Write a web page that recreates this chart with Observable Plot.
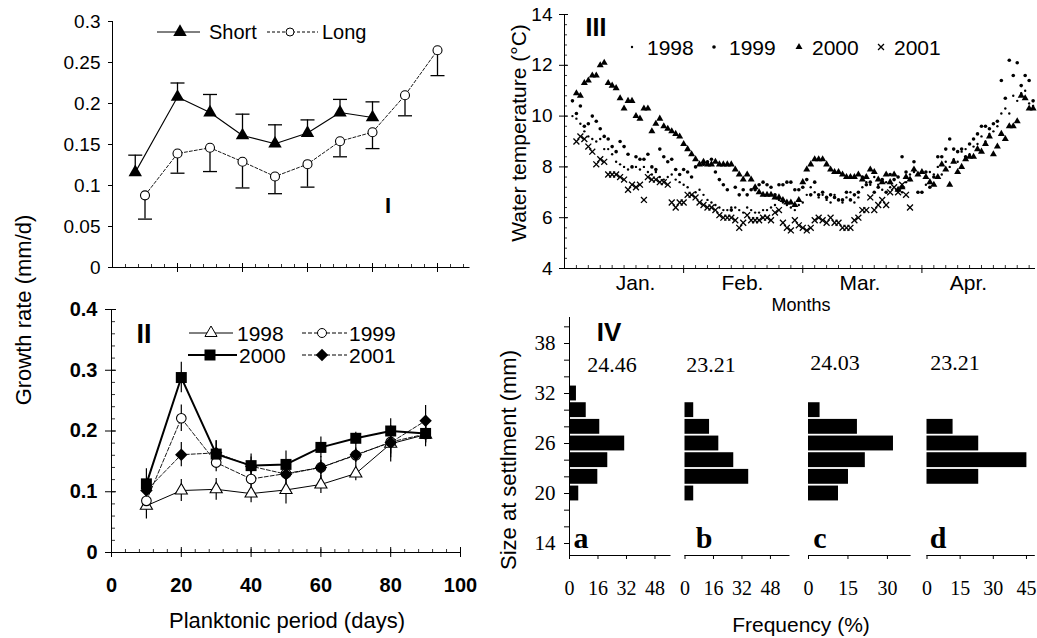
<!DOCTYPE html>
<html><head><meta charset="utf-8">
<script src="https://cdn.jsdelivr.net/npm/d3@7"></script>
<script src="https://cdn.jsdelivr.net/npm/@observablehq/plot@0.6"></script>
<style>
body{margin:0;background:#fff;}
#fig{position:relative;width:1037px;height:638px;overflow:hidden;background:#fff;}
#fig svg{position:absolute;overflow:visible;}
</style></head><body><div id="fig"></div><script>
// ---------- Panel I : growth rate, short vs long planktonic period ----------
const daysShort = [7, 20, 30, 40, 50, 60, 70, 80];
const rateShort = [0.116, 0.208, 0.189, 0.161, 0.151, 0.164, 0.189, 0.183];
const rateShortUpper = [0.137, 0.225, 0.211, 0.187, 0.174, 0.180, 0.205, 0.202];
const daysLong = [10, 20, 30, 40, 50, 60, 70, 80, 90, 100];
const rateLong = [0.088, 0.139, 0.146, 0.129, 0.111, 0.126, 0.154, 0.165, 0.210, 0.265];
const rateLongLower = [0.059, 0.115, 0.117, 0.097, 0.090, 0.098, 0.135, 0.145, 0.185, 0.234];
const yTicksI = [0, 0.05, 0.1, 0.15, 0.2, 0.25, 0.3];
const xMajorI = [20, 40, 60, 80, 100];
const legendI = ["Short", "Long"];

// ---------- Panel II : growth rate by year ----------
const daysII = [10, 20, 30, 40, 50, 60, 70, 80, 90];
const rate1998 = [0.077, 0.102, 0.104, 0.097, 0.103, 0.112, 0.130, 0.179, 0.194];
const rate1999 = [0.085, 0.221, 0.148, 0.121, 0.130, 0.140, 0.160, 0.182, 0.195];
const rate2000 = [0.113, 0.288, 0.162, 0.143, 0.145, 0.173, 0.188, 0.200, 0.196];
const rate2001 = [0.102, 0.161, 0.164, 0.142, 0.129, 0.140, 0.161, 0.181, 0.217];
const err1998 = [0.022, 0.018, 0.018, 0.015, 0.023, 0.015, 0.012, 0.030, 0.020];
const err1999 = [0.015, 0.022, 0.015, 0.012, 0.012, 0.012, 0.012, 0.020, 0.015];
const err2000 = [0.025, 0.025, 0.022, 0.019, 0.022, 0.017, 0.010, 0.020, 0.015];
const err2001 = [0.015, 0.020, 0.020, 0.015, 0.020, 0.018, 0.020, 0.025, 0.025];
const xTicksII = [0, 20, 40, 60, 80, 100];
const yTicksII = [0, 0.1, 0.2, 0.3, 0.4];
const years = ["1998", "1999", "2000", "2001"];

// ---------- Panel III : water temperature (daily) ----------
const start1998 = 2, start1999 = 2, start2000 = 3, start2001 = 3;
const temp1998 = [10.0,9.9,9.7,9.4,9.2,9.1,9.0,9.1,8.7,8.7,8.5,8.2,8.1,8.0,7.9,8.0,8.0,7.9,8.0,7.8,7.7,7.8,7.6,7.5,7.6,7.7,7.5,7.4,7.3,7.2,6.9,7.0,7.1,6.9,6.7,6.6,6.5,6.4,6.3,6.3,6.4,6.4,6.3,6.2,6.4,6.3,6.2,6.2,6.3,6.3,6.4,6.5,6.7,6.6,6.5,6.4,6.3,6.5,6.6,6.9,7.2,7.0,6.8,6.9,6.7,6.6,6.9,6.7,6.6,6.8,7.0,6.6,6.8,7.2,7.4,7.3,7.6,7.3,7.1,7.4,7.2,7.7,7.6,7.0,7.4,7.7,7.8,7.0,7.0,7.3,7.8,7.7,8.0,7.7,8.2,8.0,8.3,8.2,8.6,8.7,8.5,8.8,8.9,9.2,9.0,9.3,9.4,9.6,10.1,10.3,10.1,10.8,10.6,10.9,11.0,10.5,10.4];
const temp1999 = [10.6,10.1,10.4,9.6,9.7,10.0,9.8,9.5,9.2,9.1,8.8,8.6,9.0,8.8,8.5,8.0,8.4,8.3,8.3,8.5,8.0,7.9,8.7,8.4,8.2,8.3,7.9,7.7,7.9,7.8,7.6,8.0,8.1,8.1,8.2,8.3,7.8,7.5,7.3,7.1,6.3,7.2,6.9,7.1,6.9,7.1,7.1,7.3,7.4,7.3,7.2,6.9,7.3,7.3,7.4,7.4,7.1,7.1,7.2,7.5,6.9,7.4,6.9,7.0,6.8,6.9,6.8,6.7,6.7,7.0,6.7,6.9,7.0,7.6,7.3,7.4,7.0,7.2,7.5,7.0,7.7,7.5,7.6,8.4,7.8,7.5,8.2,7.0,7.0,7.8,7.2,7.6,8.4,8.4,8.7,9.1,8.7,8.6,8.7,8.4,8.9,9.1,9.3,9.6,9.6,9.5,9.7,9.8,11.4,10.7,12.2,11.6,12.1,11.2,11.6,11.4,10.6];
const temp2000 = [10.9,10.8,11.3,11.4,11.6,11.6,12.0,12.1,11.3,11.2,11.1,10.7,10.3,10.6,10.6,10.0,9.9,10.3,10.3,9.4,9.7,9.9,9.6,9.5,9.4,9.3,9.2,8.9,8.7,8.5,8.3,8.1,8.2,8.1,8.1,8.2,8.1,8.1,8.1,8.1,7.9,7.7,7.5,7.7,7.5,7.2,7.0,6.9,6.9,6.9,6.8,6.8,6.7,6.6,6.6,6.5,6.7,7.4,7.9,8.1,8.3,8.3,8.3,8.1,7.9,7.8,7.8,7.7,7.6,7.6,7.6,7.7,7.5,7.6,7.9,7.8,7.5,7.4,7.7,7.4,7.7,7.1,7.2,7.6,7.5,7.9,7.7,7.8,7.6,7.4,7.3,7.6,8.1,7.9,7.3,8.2,7.8,8.0,8.3,8.4,8.4,8.7,8.6,8.9,9.2,8.5,8.8,9.3,9.1,9.6,9.6,9.8,10.8,10.7,10.3,10.3];
const temp2001 = [9.0,9.2,9.1,8.8,8.6,8.1,8.3,8.2,7.7,7.7,7.7,7.6,7.5,7.1,7.3,7.2,7.3,6.7,7.6,7.5,7.5,7.4,7.4,7.3,6.6,6.4,6.6,6.6,6.9,6.9,6.8,6.6,6.5,6.4,6.4,6.3,6.1,6.0,6.0,6.0,5.9,5.6,5.8,6.1,5.9,5.9,5.9,6.0,6.0,5.9,6.2,6.3,5.8,5.6,5.5,5.9,5.7,5.6,5.5,5.6,5.9,6.0,5.9,5.8,6.0,5.8,5.8,5.6,5.6,5.6,5.9,6.0,6.3,6.3,6.8,6.3,6.5,6.7,6.5,7.0,7.2,7.0,7.3,6.9,6.4];
const monthDays = [17.9, 44.8, 74.4, 101.7];
const monthNames = ["Jan.", "Feb.", "Mar.", "Apr."];
const yTicksIII = [4, 6, 8, 10, 12, 14];
const xMajorIII = [30, 60, 90];

// ---------- Panel IV : size at settlement histograms ----------
const binsA = [32, 30, 28, 26, 24, 22, 20];
const freqA = [3.9, 9.4, 17.0, 31.0, 21.5, 15.9, 5.2];
const binsB = [30, 28, 26, 24, 22, 20];
const freqB = [4.9, 13.8, 19.0, 27.4, 35.8, 4.9];
const binsC = [30, 28, 26, 24, 22, 20];
const freqC = [4.4, 18.6, 32.3, 21.6, 15.2, 11.4];
const binsD = [28, 26, 24, 22];
const freqD = [11.8, 23.4, 45.2, 23.4];
const meanSizes = ["24.46", "23.21", "24.03", "23.21"];
const panelLetters = ["a", "b", "c", "d"];
const sizeTicks = [14, 20, 26, 32, 38];
const freqTicksAB = [0, 16, 32, 48];
const freqTicksC = [0, 15, 30];
const freqTicksD = [0, 15, 30, 45];

// ================= drawing =================
const SANS = "'Liberation Sans', Arial, Helvetica, sans-serif";
const SERIF = "'Liberation Serif', 'Times New Roman', serif";
const fig = document.getElementById("fig");
function mount(svg, left, top) {
  svg.style.position = "absolute"; svg.style.left = left + "px"; svg.style.top = top + "px";
  fig.appendChild(svg);
}
const styleOf = (extra = {}) => Object.assign({fontFamily: SANS, fontSize: "19px", background: "transparent", overflow: "visible", color: "black"}, extra);
const hbar = {draw(ctx, size) { const w = Math.sqrt(size / Math.PI); ctx.moveTo(-w, 0); ctx.lineTo(w, 0); }};
const fmt = d => String(d);

function texts(items) {
  return () => {
    const g = d3.create("svg:g");
    for (const t of items) {
      const el = g.append("text").attr("x", t.x).attr("y", t.y)
        .attr("font-family", t.family || SANS).attr("font-size", t.size)
        .attr("font-weight", t.weight || "normal")
        .attr("text-anchor", t.anchor || "middle")
        .attr("dominant-baseline", t.baseline || "central")
        .attr("fill", "black").text(t.text);
      if (t.rotate) el.attr("transform", `rotate(${t.rotate},${t.x},${t.y})`);
    }
    return g.node();
  };
}
function legend(items) {
  return () => {
    const g = d3.create("svg:g");
    for (const it of items) {
      if (it.line) g.append("line").attr("x1", it.line[0]).attr("x2", it.line[1]).attr("y1", it.y).attr("y2", it.y)
        .attr("stroke", "black").attr("stroke-width", it.lw || 1).attr("stroke-dasharray", it.dash || null);
      if (it.sym) g.append("path").attr("d", d3.symbol(it.sym, Math.PI * it.r * it.r)())
        .attr("transform", `translate(${it.sx},${it.y})`).attr("fill", it.fill || "black")
        .attr("stroke", it.stroke || "none").attr("stroke-width", it.sw || 1);
      if (it.label) g.append("text").attr("x", it.tx).attr("y", it.y).attr("dominant-baseline", "central")
        .attr("text-anchor", "start")
        .attr("font-family", SANS).attr("font-size", it.size || 20).attr("fill", "black").text(it.label);
    }
    return g.node();
  };
}

// ---------- Panel I ----------
{
  const W = 500, H = 290, mt = 21, mb = 23, ml = 112, mr = 30.5;
  const fh = H - mt - mb;
  const shortRows = daysShort.map((d, i) => ({day: d, r: rateShort[i], hi: rateShortUpper[i]}));
  const longRows = daysLong.map((d, i) => ({day: d, r: rateLong[i], lo: rateLongLower[i]}));
  const p = Plot.plot({
    width: W, height: H, marginTop: mt, marginBottom: mb, marginLeft: ml, marginRight: mr,
    x: {domain: [0, 110], axis: null, label: null}, y: {domain: [0, 0.3], axis: null, label: null},
    style: styleOf(),
    marks: [
      Plot.ruleX([0], {stroke: "black"}),
      Plot.ruleY([0], {stroke: "black"}),
      Plot.axisY(yTicksI, {tickSize: 4, tickPadding: 8, tickFormat: fmt, fontSize: 19, label: null}),
      Plot.axisX(xMajorI, {tickSize: 5, tickFormat: () => "", label: null}),
      Plot.tickX(xMajorI, {x: d => d, insetTop: fh - 4, stroke: "black"}),
      Plot.tickX(d3.range(4, 110, 4), {x: d => d, insetTop: fh - 3, stroke: "black", strokeWidth: 0.8}),
      Plot.line(longRows, {x: "day", y: "r", stroke: "black", strokeWidth: 0.9, strokeDasharray: "3,2"}),
      Plot.line(shortRows, {x: "day", y: "r", stroke: "black", strokeWidth: 1.1}),
      Plot.ruleX(shortRows, {x: "day", y1: "r", y2: "hi", stroke: "black", strokeWidth: 1.3}),
      Plot.dot(shortRows, {x: "day", y: "hi", symbol: hbar, r: 7, stroke: "black", fill: "none", strokeWidth: 1.3}),
      Plot.ruleX(longRows, {x: "day", y1: "lo", y2: "r", stroke: "black", strokeWidth: 1.3}),
      Plot.dot(longRows, {x: "day", y: "lo", symbol: hbar, r: 7, stroke: "black", fill: "none", strokeWidth: 1.3}),
      Plot.dot(shortRows, {x: "day", y: "r", symbol: "triangle", r: 5, fill: "black", stroke: "none"}),
      Plot.dot(longRows, {x: "day", y: "r", symbol: "circle", r: 4.5, fill: "white", stroke: "black", strokeWidth: 1.1}),
      legend([
        {line: [157, 200], y: 32, sym: d3.symbolTriangle, sx: 180, r: 5, label: legendI[0], tx: 209, size: 20},
        {line: [267, 318], y: 32, dash: "3,2", sym: d3.symbolCircle, sx: 290, r: 4, fill: "white", stroke: "black", label: legendI[1], tx: 322, size: 20}
      ]),
      texts([{x: 388, y: 205, text: "I", size: 22, weight: "bold"}])
    ]
  });
  mount(p, 0, 0);
}

// ---------- Panel II ----------
{
  const W = 500, H = 348, mt = 19, mb = 86, ml = 111, mr = 40;
  const fh = H - mt - mb, fw = W - ml - mr;
  const mk = (vals, errs) => daysII.map((d, i) => ({day: d, r: vals[i], lo: vals[i] - errs[i], hi: vals[i] + errs[i]}));
  const r98 = mk(rate1998, err1998), r99 = mk(rate1999, err1999), r00 = mk(rate2000, err2000), r01 = mk(rate2001, err2001);
  const p = Plot.plot({
    width: W, height: H, marginTop: mt, marginBottom: mb, marginLeft: ml, marginRight: mr,
    x: {domain: [0, 100], axis: null, label: null}, y: {domain: [0, 0.4], axis: null, label: null},
    style: styleOf(),
    marks: [
      Plot.ruleX([0], {stroke: "black"}),
      Plot.ruleY([0], {stroke: "black"}),
      Plot.axisY(yTicksII, {tickSize: 6, tickPadding: 8, tickFormat: fmt, fontSize: 20, fontWeight: "bold", label: null}),
      Plot.tickY(yTicksII, {y: d => d, insetRight: fw - 5, stroke: "black"}),
      Plot.tickY(d3.range(0.02, 0.4, 0.02), {y: d => d, insetRight: fw - 4, stroke: "black", strokeWidth: 0.8}),
      Plot.axisX(xTicksII, {tickSize: 5, tickFormat: () => "", label: null}),
      Plot.axisX(xTicksII, {tickSize: 0, tickPadding: 25, tickFormat: fmt, fontSize: 20, fontWeight: "bold", label: null}),
      Plot.tickX(xTicksII, {x: d => d, insetTop: fh - 5, stroke: "black"}),
      Plot.tickX(d3.range(4, 100, 4), {x: d => d, insetTop: fh - 3, stroke: "black", strokeWidth: 0.8}),
      Plot.ruleX(r98, {x: "day", y1: "lo", y2: "hi", stroke: "black", strokeWidth: 1.2}),
      Plot.ruleX(r99, {x: "day", y1: "lo", y2: "hi", stroke: "black", strokeWidth: 1.2}),
      Plot.ruleX(r00, {x: "day", y1: "lo", y2: "hi", stroke: "black", strokeWidth: 1.2}),
      Plot.ruleX(r01, {x: "day", y1: "lo", y2: "hi", stroke: "black", strokeWidth: 1.2}),
      Plot.line(r98, {x: "day", y: "r", stroke: "black", strokeWidth: 1}),
      Plot.line(r99, {x: "day", y: "r", stroke: "black", strokeWidth: 0.9, strokeDasharray: "4,2"}),
      Plot.line(r01, {x: "day", y: "r", stroke: "black", strokeWidth: 0.9, strokeDasharray: "4,2"}),
      Plot.line(r00, {x: "day", y: "r", stroke: "black", strokeWidth: 2}),
      Plot.dot(r98, {x: "day", y: "r", symbol: "triangle", r: 4.5, fill: "white", stroke: "black", strokeWidth: 1.1}),
      Plot.dot(r99, {x: "day", y: "r", symbol: "circle", r: 4.8, fill: "white", stroke: "black", strokeWidth: 1.1}),
      Plot.dot(r00, {x: "day", y: "r", symbol: "square", r: 6.2, fill: "black", stroke: "none"}),
      Plot.dot(r01, {x: "day", y: "r", symbol: "diamond2", r: 5.6, fill: "black", stroke: "none"}),
      legend([
        {line: [189, 233], y: 43, sym: d3.symbolTriangle, sx: 211, r: 4.5, fill: "white", stroke: "black", label: years[0], tx: 237, size: 21},
        {line: [302, 347], y: 43, dash: "4,2", sym: d3.symbolCircle, sx: 322, r: 4.5, fill: "white", stroke: "black", label: years[1], tx: 349, size: 21},
        {line: [188, 237], y: 65, lw: 2, sym: d3.symbolSquare, sx: 210, r: 6.2, label: years[2], tx: 239, size: 21},
        {line: [302, 347], y: 65, dash: "4,2", sym: d3.symbolDiamond2, sx: 322, r: 5.6, label: years[3], tx: 349, size: 21}
      ]),
      texts([
        {x: 144, y: 44, text: "II", size: 27, weight: "bold"},
        {x: 287, y: 330, text: "Planktonic period (days)", size: 22},
        {x: 23, y: 20, text: "Growth rate (mm/d)", size: 22, rotate: -90}
      ])
    ]
  });
  mount(p, 0, 290);
}

// ---------- Panel III ----------
{
  const W = 537, H = 320, mt = 14, mb = 52, ml = 64, mr = 2;
  const fh = H - mt - mb, fw = W - ml - mr;
  const rows = (arr, s) => arr.map((t, i) => ({day: s + i, t}));
  const p = Plot.plot({
    width: W, height: H, marginTop: mt, marginBottom: mb, marginLeft: ml, marginRight: mr,
    x: {domain: [0, 118.6], axis: null, label: null}, y: {domain: [4, 14], axis: null, label: null},
    style: styleOf(),
    marks: [
      Plot.ruleX([0], {stroke: "black"}),
      Plot.ruleY([4], {stroke: "black"}),
      Plot.axisY(yTicksIII, {tickSize: 5, tickPadding: 7, tickFormat: fmt, fontSize: 19, label: null}),
      Plot.tickY(yTicksIII, {y: d => d, insetRight: fw - 4, stroke: "black"}),
      Plot.tickY(d3.range(4.4, 14, 0.4), {y: d => d, insetRight: fw - 3, stroke: "black", strokeWidth: 0.8}),
      Plot.axisX(xMajorIII, {tickSize: 5, tickFormat: () => "", label: null}),
      Plot.tickX(d3.range(3, 118.6, 3), {x: d => d, insetTop: fh - 3, stroke: "black", strokeWidth: 0.8}),
      Plot.axisX(monthDays, {tickSize: 0, tickPadding: 7, tickFormat: d => monthNames[monthDays.indexOf(d)], fontSize: 21, label: null}),
      Plot.dot(rows(temp1998, start1998), {x: "day", y: "t", r: 1.2, fill: "black"}),
      Plot.dot(rows(temp1999, start1999), {x: "day", y: "t", r: 1.8, fill: "black"}),
      Plot.dot(rows(temp2000, start2000), {x: "day", y: "t", symbol: "triangle", r: 2.6, fill: "black", stroke: "none"}),
      Plot.dot(rows(temp2001, start2001), {x: "day", y: "t", symbol: "times", r: 2.8, stroke: "black", strokeWidth: 1.3}),
      legend([
        {y: 47, sym: d3.symbolCircle, sx: 132, r: 1.2, label: years[0], tx: 147, size: 21},
        {y: 47, sym: d3.symbolCircle, sx: 214, r: 1.8, label: years[1], tx: 229, size: 21},
        {y: 47, sym: d3.symbolTriangle, sx: 299, r: 2.6, label: years[2], tx: 312, size: 21},
        {y: 47, sym: d3.symbolTimes || d3.symbolX, sx: 381, r: 2.8, fill: "none", stroke: "black", sw: 1.3, label: years[3], tx: 394, size: 21}
      ]),
      texts([
        {x: 96, y: 27, text: "III", size: 25, weight: "bold"},
        {x: 301, y: 305, text: "Months", size: 18},
        {x: 18, y: 133, text: "Water temperature (°C)", size: 21, rotate: -90}
      ])
    ]
  });
  mount(p, 500, 0);
}

// ---------- Panel IV ----------
const sizeDomain = [12.56, 41.12];
function hist({bins, freqs, domain, ticks, left, width, ml, mr, yAxis, extra}) {
  const H = 328, mt = 7, mb = 83;
  const rows = bins.map((b, i) => ({lo: b - 1, hi: b + 1, f: freqs[i]}));
  const marks = [
    Plot.ruleY([sizeDomain[0]], {stroke: "black"}),
    Plot.axisX(ticks, {tickSize: 4, tickPadding: 21, tickFormat: fmt, fontFamily: SERIF, fontSize: 20, label: null}),
    Plot.rect(rows, {x1: 0, x2: "f", y1: "lo", y2: "hi", insetTop: 0.9, insetBottom: 0.9, fill: "black"})
  ];
  if (yAxis) marks.unshift(
    Plot.ruleX([0], {stroke: "black"}),
    Plot.axisY(d3.range(14, 41, 2), {tickSize: 5, tickFormat: () => "", label: null}),
    Plot.axisY(sizeTicks, {tickSize: 0, tickPadding: 14, tickFormat: fmt, fontFamily: SERIF, fontSize: 21, label: null})
  );
  marks.push(texts(extra));
  const p = Plot.plot({
    width, height: H, marginTop: mt, marginBottom: mb, marginLeft: ml, marginRight: mr,
    x: {domain, axis: null, label: null}, y: {domain: sizeDomain, axis: null, label: null},
    style: styleOf(), marks
  });
  mount(p, left, 310);
}
hist({bins: binsA, freqs: freqA, domain: [0, 57], ticks: freqTicksAB, left: 500, width: 180, ml: 69, mr: 9.5, yAxis: true,
  extra: [
    {x: 109, y: 22, text: "IV", size: 26, weight: "bold"},
    {x: 112, y: 54, text: meanSizes[0], size: 22, family: SERIF},
    {x: 81, y: 238, text: panelLetters[0], size: 30, weight: "bold", family: SERIF, baseline: "alphabetic"},
    {x: 8, y: 150, text: "Size at settlment (mm)", size: 22, rotate: -90},
    {x: 301, y: 314, text: "Frequency (%)", size: 21}
  ]});
hist({bins: binsB, freqs: freqB, domain: [0, 59], ticks: freqTicksAB, left: 680, width: 120, ml: 4.5, mr: 10.5,
  extra: [
    {x: 31, y: 54, text: meanSizes[1], size: 22, family: SERIF},
    {x: 24, y: 238, text: panelLetters[1], size: 30, weight: "bold", family: SERIF, baseline: "alphabetic"}
  ]});
hist({bins: binsC, freqs: freqC, domain: [0, 39], ticks: freqTicksC, left: 800, width: 120, ml: 8, mr: 9.4,
  extra: [
    {x: 35, y: 52, text: meanSizes[2], size: 22, family: SERIF},
    {x: 20, y: 238, text: panelLetters[2], size: 30, weight: "bold", family: SERIF, baseline: "alphabetic"}
  ]});
hist({bins: binsD, freqs: freqD, domain: [0, 49], ticks: freqTicksD, left: 920, width: 117, ml: 6.5, mr: 2.2,
  extra: [
    {x: 35, y: 52, text: meanSizes[3], size: 22, family: SERIF},
    {x: 18, y: 238, text: panelLetters[3], size: 30, weight: "bold", family: SERIF, baseline: "alphabetic"}
  ]});
</script></body></html>
